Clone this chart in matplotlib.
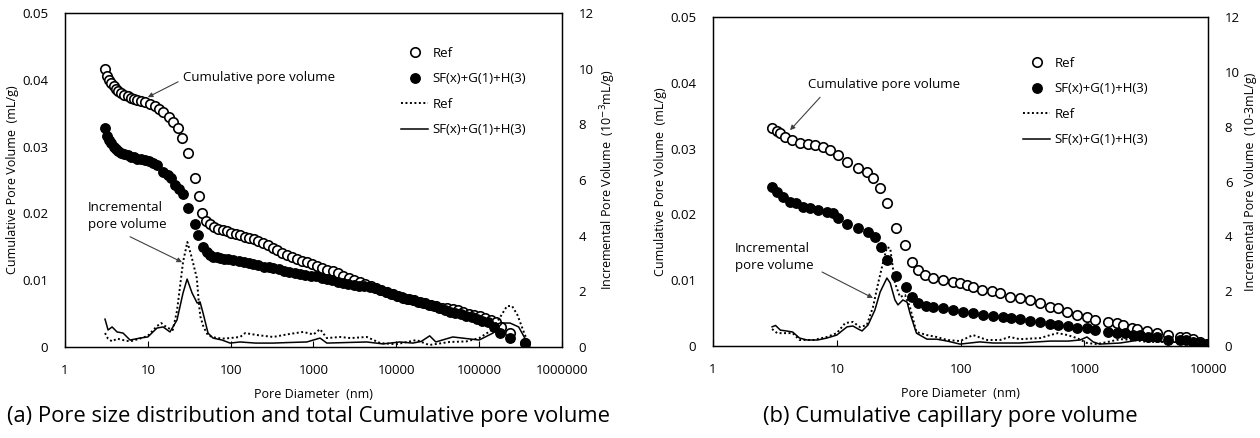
import matplotlib
matplotlib.use("Agg")
from matplotlib import pyplot as plt

plt.rcParams['font.family'] = ['Open Sans', 'DejaVu Sans']

# ---- (a) total pore volume -------------------------------------------
a_ref_d = [3.05, 3.2, 3.4, 3.6, 3.85, 4.1, 4.4, 4.8, 5.2, 5.7, 6.2, 6.8, 7.5, 8.3,
           9.2, 10.6, 12.2, 13.8, 15.3, 18.0, 20.2, 23.2, 25.9, 30.6, 37, 41.5, 45,
           50, 56, 63, 71, 80, 90, 102, 115, 130, 148, 168, 190, 215, 245, 280, 320,
           365, 420, 480, 550, 630, 720, 830, 950, 1100, 1270, 1470, 1700, 1970,
           2280, 2650, 3080, 3600, 4200, 4900, 5700, 6600, 7700, 9000, 10500,
           12200, 14200, 16500, 19200, 22300, 26000, 30300, 35300, 41000, 47800,
           55600, 64700, 75300, 87600, 102000, 119000, 138000, 161000, 185000,
           236000, 360000]
a_ref_v = [0.0416, 0.0405, 0.0400, 0.0395, 0.0390, 0.0386, 0.0383, 0.0380, 0.0377,
           0.0375, 0.0373, 0.0371, 0.0370, 0.0368, 0.0366, 0.0364, 0.0360, 0.0356,
           0.0352, 0.0344, 0.0337, 0.0328, 0.0313, 0.0290, 0.0253, 0.0226, 0.0201,
           0.0188, 0.0184, 0.0180, 0.0177, 0.0175, 0.0173, 0.0171, 0.0169, 0.0167,
           0.0165, 0.0163, 0.0161, 0.0158, 0.0155, 0.0152, 0.0148, 0.0145, 0.0141,
           0.0138, 0.0135, 0.0132, 0.0129, 0.0127, 0.0124, 0.0121, 0.0118, 0.0115,
           0.0113, 0.0110, 0.0107, 0.0104, 0.0101, 0.0098, 0.0095, 0.0091, 0.0088,
           0.0086, 0.0083, 0.0079, 0.0077, 0.0074, 0.0072, 0.0070, 0.0068, 0.0066,
           0.0063, 0.0061, 0.0059, 0.0058, 0.0057, 0.0055, 0.0052, 0.0050, 0.0048,
           0.0046, 0.0044, 0.0041, 0.0037, 0.0030, 0.0021, 0.0006]

a_sf_d = [3.05, 3.2, 3.4, 3.6, 3.85, 4.1, 4.4, 4.8, 5.2, 5.7, 6.2, 6.8, 7.5, 8.3,
          9.2, 10.2, 11.5, 13, 15.3, 17.5, 19, 21.3, 23.5, 26.6, 30.5, 37, 40.5,
          46.5, 52, 56, 62, 68, 74, 82, 92, 107, 125, 145, 165, 186, 215, 250, 290,
          325, 380, 440, 510, 590, 690, 800, 930, 1080, 1250, 1450, 1690, 1960,
          2270, 2640, 3060, 3550, 4120, 4780, 5550, 6440, 7480, 8680, 10100, 11700,
          13600, 15700, 18300, 21200, 24600, 28500, 33100, 38500, 44600, 51800,
          60100, 69800, 81000, 94000, 109000, 127000, 150000, 180000, 236000, 360000]
a_sf_v = [0.0328, 0.0316, 0.0310, 0.0305, 0.0300, 0.0297, 0.0294, 0.0291, 0.0289,
          0.0287, 0.0285, 0.0284, 0.0282, 0.0281, 0.0280, 0.0278, 0.0276, 0.0273,
          0.0262, 0.0258, 0.0253, 0.0243, 0.0236, 0.0229, 0.0208, 0.0184, 0.0168,
          0.0150, 0.0142, 0.0138, 0.0135, 0.0134, 0.0133, 0.0132, 0.0131, 0.0130,
          0.0128, 0.0127, 0.0125, 0.0124, 0.0122, 0.0120, 0.0119, 0.0118, 0.0116,
          0.0114, 0.0112, 0.0111, 0.0109, 0.0108, 0.0107, 0.0106, 0.0104, 0.0102,
          0.0100, 0.0098, 0.0096, 0.0095, 0.0093, 0.0092, 0.0091, 0.0090, 0.0088,
          0.0086, 0.0083, 0.0080, 0.0077, 0.0075, 0.0072, 0.0070, 0.0068, 0.0066,
          0.0063, 0.0061, 0.0058, 0.0056, 0.0053, 0.0051, 0.0049, 0.0047, 0.0045,
          0.0042, 0.0039, 0.0037, 0.0030, 0.0021, 0.0013, 0.0006]

# incremental pore volume (10^-3 mL/g)
a_inc_ref_d = [3.04, 3.3, 3.7, 4.25, 5.0, 6.1, 8.0, 10, 12.9, 14.5, 17, 20, 22.5,
               26.6, 30, 34, 39, 41, 43, 47, 53, 61, 78, 98, 130, 150, 207, 325,
               520, 750, 1000, 1200, 1450, 2100, 2800, 4400, 6400, 10000, 17500,
               25000, 44000, 70000, 100000, 143000, 180000, 217000, 250000, 290000,
               350000, 410000]
a_inc_ref_u = [0.50, 0.30, 0.20, 0.30, 0.25, 0.20, 0.30, 0.40, 0.75, 0.86, 0.70,
               0.61, 1.30, 3.05, 3.77, 3.20, 2.48, 1.69, 1.10, 0.72, 0.43, 0.35,
               0.30, 0.32, 0.36, 0.50, 0.43, 0.36, 0.47, 0.54, 0.45, 0.64, 0.32,
               0.36, 0.32, 0.36, 0.14, 0.10, 0.25, 0.07, 0.18, 0.20, 0.32, 0.61,
               1.08, 1.47, 1.47, 1.15, 0.50, 0.0]
a_inc_sf_d = [3.04, 3.31, 3.7, 4.25, 5.02, 6.1, 8.05, 10.0, 12.9, 15.3, 18.5, 22.5,
              26.6, 29.8, 34.2, 39.4, 42.7, 46.4, 53.3, 61.2, 78.6, 98.5, 130, 200,
              325, 500, 830, 1200, 1450, 2500, 4400, 6900, 11000, 15800, 20000,
              25300, 30000, 48000, 100000, 147000, 190000, 236000, 300000, 350000,
              410000]
a_inc_sf_u = [1.00, 0.61, 0.72, 0.54, 0.50, 0.25, 0.32, 0.36, 0.68, 0.72, 0.54,
              0.97, 1.94, 2.44, 1.94, 1.58, 1.62, 1.22, 0.50, 0.32, 0.25, 0.14,
              0.18, 0.14, 0.14, 0.16, 0.18, 0.32, 0.14, 0.16, 0.18, 0.11, 0.18,
              0.14, 0.20, 0.40, 0.18, 0.36, 0.25, 0.50, 0.86, 0.86, 0.72, 0.36, 0.0]

# ---- (b) capillary pore volume ---------------------------------------
b_ref_d = [3.0, 3.3, 3.5, 3.8, 4.35, 5.0, 5.8, 6.7, 7.7, 8.8, 10.2, 12.1, 14.9,
           17.5, 19.6, 22.4, 25.4, 30, 35.6, 40.5, 45.5, 51.5, 60, 72, 87, 99, 113,
           126, 149, 180, 208, 250, 300, 365, 440, 530, 610, 730, 870, 1050, 1220,
           1550, 1820, 2050, 2430, 2650, 3200, 3850, 4750, 5900, 6650, 7600, 8600,
           9800]
b_ref_v = [0.0331, 0.0327, 0.0324, 0.0318, 0.0313, 0.0308, 0.0307, 0.0305, 0.0302,
           0.0298, 0.0290, 0.0280, 0.0270, 0.0264, 0.0255, 0.0240, 0.0217, 0.0180,
           0.0153, 0.0128, 0.0116, 0.0108, 0.0103, 0.0100, 0.0097, 0.0096, 0.0093,
           0.0090, 0.0085, 0.0084, 0.0080, 0.0075, 0.0073, 0.0070, 0.0065, 0.0059,
           0.0058, 0.0052, 0.0047, 0.0044, 0.0040, 0.0036, 0.0035, 0.0032, 0.0027,
           0.0026, 0.0023, 0.0020, 0.0017, 0.0014, 0.0014, 0.0010, 0.0006, 0.0003]

b_sf_d = [3.0, 3.3, 3.7, 4.2, 4.7, 5.3, 6.1, 7.1, 8.3, 9.3, 10.3, 12.1, 14.9, 17.9,
          20.3, 22.7, 25.4, 30, 36.5, 40.5, 45.5, 52.5, 60, 72, 87, 105, 126, 152,
          183, 220, 255, 300, 365, 440, 530, 610, 740, 870, 1050, 1220, 1550, 1850,
          2150, 2490, 2800, 3250, 3850, 4750, 5900, 6650, 7600, 8600, 9800]
b_sf_v = [0.0242, 0.0234, 0.0227, 0.0219, 0.0217, 0.0211, 0.0210, 0.0207, 0.0204,
          0.0202, 0.0194, 0.0185, 0.0179, 0.0173, 0.0166, 0.0150, 0.0131, 0.0106,
          0.0090, 0.0075, 0.0065, 0.0061, 0.0059, 0.0058, 0.0055, 0.0052, 0.0050,
          0.0047, 0.0046, 0.0044, 0.0043, 0.0041, 0.0038, 0.0036, 0.0033, 0.0032,
          0.0030, 0.0027, 0.0027, 0.0024, 0.0021, 0.0020, 0.0020, 0.0017, 0.0017,
          0.0014, 0.0014, 0.0009, 0.0009, 0.0009, 0.0006, 0.0004, 0.0003]

b_inc_ref_d = [3.0, 3.3, 3.7, 4.4, 5.0, 6.5, 8.3, 10, 11.7, 13.5, 15.4, 17.5, 19.6,
               21.6, 23.6, 25.4, 27, 29.5, 32.4, 35.6, 39, 44, 53.5, 64, 78, 99, 126,
               164, 208, 250, 300, 440, 530, 610, 730, 870, 1050, 1260, 1550, 1950,
               2490, 3200, 4650, 7000, 9800]
b_inc_ref_u = [0.62, 0.47, 0.47, 0.47, 0.22, 0.22, 0.33, 0.47, 0.84, 0.88, 0.69,
               0.77, 1.42, 2.30, 3.03, 3.60, 3.57, 2.30, 1.79, 1.86, 1.42, 0.51,
               0.40, 0.33, 0.22, 0.18, 0.40, 0.22, 0.22, 0.33, 0.25, 0.29, 0.40,
               0.47, 0.40, 0.29, 0.11, 0.07, 0.15, 0.25, 0.22, 0.15, 0.15, 0.15,
               0.04]
b_inc_sf_d = [3.0, 3.2, 3.5, 3.9, 4.4, 5.0, 5.75, 7.0, 8.3, 10.0, 12.1, 13.5, 14.9,
              16, 17.9, 20.3, 22.4, 25.4, 27, 29.5, 31.2, 34.2, 37, 39, 44, 53.5,
              64, 78, 99, 143, 183, 300, 530, 740, 925, 1050, 1180, 1330, 1950, 2800,
              4650, 7600, 9800]
b_inc_sf_u = [0.70, 0.75, 0.58, 0.55, 0.51, 0.29, 0.22, 0.22, 0.29, 0.40, 0.70,
              0.73, 0.62, 0.55, 0.77, 1.31, 1.97, 2.48, 2.30, 1.68, 1.50, 1.68,
              1.60, 1.20, 0.47, 0.25, 0.25, 0.18, 0.07, 0.15, 0.11, 0.11, 0.18,
              0.18, 0.22, 0.33, 0.15, 0.07, 0.11, 0.22, 0.15, 0.11, 0.04]

leg_labels = ['Ref', 'SF(x)+G(1)+H(3)', 'Ref', 'SF(x)+G(1)+H(3)']

fig = plt.figure(figsize=(12.6, 4.38), dpi=100)


def panel(rect, xmax, ref_d, ref_v, sf_d, sf_v, iref_d, iref_u, isf_d, isf_u,
          right_label, caption, cap_x, leg_anchor, cum_txt, cum_arrow, inc_txt, inc_arrow):
    ax = fig.add_axes(rect)
    ax2 = ax.twinx()
    ax.set_xscale('log')
    ax.set_xlim(1, xmax)
    ax.set_ylim(0, 0.05)
    ax2.set_ylim(0, 12)
    ax.set_yticks([0, 0.01, 0.02, 0.03, 0.04, 0.05])
    ax.set_yticklabels(['0', '0.01', '0.02', '0.03', '0.04', '0.05'])
    ax2.set_yticks([0, 2, 4, 6, 8, 10, 12])
    ticks = [10 ** k for k in range(0, len(str(xmax)))]
    ax.set_xticks(ticks)
    ax.set_xticklabels([str(t) for t in ticks])
    ax.xaxis.set_minor_locator(matplotlib.ticker.NullLocator())
    ax.tick_params(axis='x', direction='in', length=4, width=0.8, pad=12, labelsize=9.5)
    ax.tick_params(axis='y', length=0, pad=12, labelsize=9.5)
    ax2.tick_params(axis='y', length=0, pad=12, labelsize=9.5)
    for sp in list(ax.spines.values()) + list(ax2.spines.values()):
        sp.set_linewidth(0.9)

    h1, = ax.plot(ref_d, ref_v, 'o', ms=6.8, mfc='white', mec='black', mew=1.2,
                  linestyle='none', zorder=3)
    h2, = ax.plot(sf_d, sf_v, 'o', ms=6.8, mfc='black', mec='black', mew=1.0,
                  linestyle='none', zorder=3)
    h3, = ax2.plot(iref_d, iref_u, color='black', lw=1.4, linestyle=(0, (1, 1.3)))
    h4, = ax2.plot(isf_d, isf_u, color='black', lw=1.1)

    ax.set_xlabel('Pore Diameter  (nm)', fontsize=9, labelpad=8)
    ax.set_ylabel('Cumulative Pore Volume  (mL/g)', fontsize=9, labelpad=2)
    ax2.set_ylabel(right_label, fontsize=9, labelpad=3)

    ax.legend([h1, h2, h3, h4], leg_labels, frameon=False, loc='upper left',
              bbox_to_anchor=leg_anchor, fontsize=9.5, handlelength=2.1,
              handletextpad=0.3, labelspacing=0.95, borderaxespad=0)

    arrow = dict(arrowstyle='-|>', color='#404040', lw=0.8, mutation_scale=7,
                 shrinkA=0, shrinkB=0)
    ax.text(cum_txt[0], cum_txt[1], 'Cumulative pore volume', fontsize=9.5,
            ha='left', va='center')
    ax.annotate('', xy=cum_arrow[1], xytext=cum_arrow[0], arrowprops=arrow)
    ax.text(inc_txt[0], inc_txt[1], 'Incremental\npore volume', fontsize=9.5,
            ha='left', va='center', linespacing=1.45)
    ax.annotate('', xy=inc_arrow[1], xytext=inc_arrow[0], arrowprops=arrow)

    fig.text(cap_x, 0.048, caption, fontsize=15.8, ha='center', va='center')
    return ax


panel([0.0516, 0.2078, 0.3944, 0.7626], 1000000,
      a_ref_d, a_ref_v, a_sf_d, a_sf_v,
      a_inc_ref_d, a_inc_ref_u, a_inc_sf_d, a_inc_sf_u,
      'Incremental Pore Volume  (10$^{-3}$mL/g)',
      '(a) Pore size distribution and total Cumulative pore volume', 0.245,
      (0.665, 0.915),
      (26.6, 0.0403), [(23.2, 0.0397), (10.0, 0.0374)],
      (1.9, 0.0196), [(6.1, 0.0165), (25.9, 0.0127)])

panel([0.5659, 0.2100, 0.3929, 0.7511], 10000,
      b_ref_d, b_ref_v, b_sf_d, b_sf_v,
      b_inc_ref_d, b_inc_ref_u, b_inc_sf_d, b_inc_sf_u,
      'Incremental Pore Volume  (10-3mL/g)',
      '(b) Cumulative capillary pore volume', 0.754,
      (0.615, 0.895),
      (5.86, 0.0397), [(7.33, 0.0378), (4.19, 0.0328)],
      (1.5, 0.0135), [(7.6, 0.01125), (19.6, 0.0073)])

plt.savefig('out.png', dpi=100)
